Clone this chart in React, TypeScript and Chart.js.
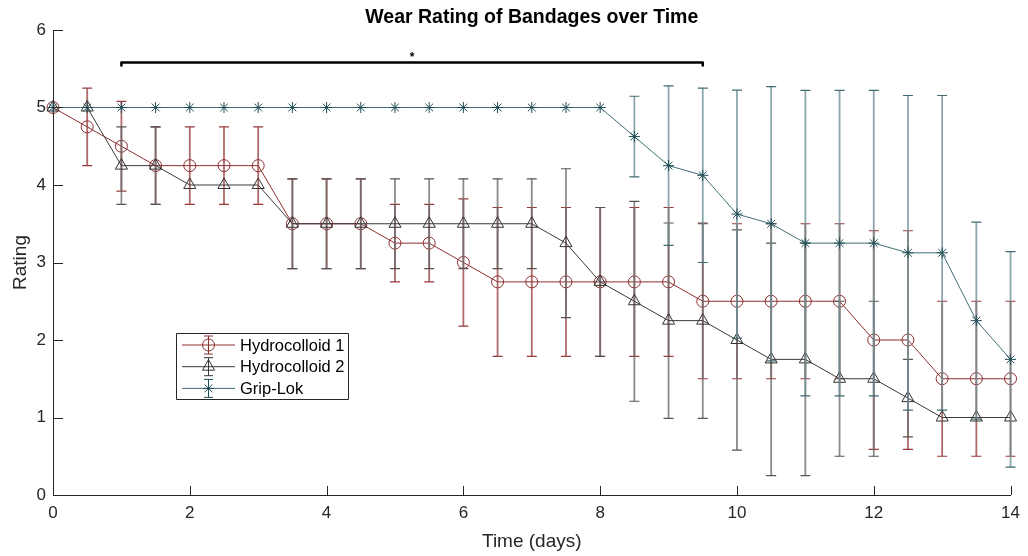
import React, { useEffect, useRef } from "react";
import { Chart, registerables } from "chart.js";
import { drawPoint } from "chart.js/helpers";

Chart.register(...registerables);

const timeDays = [0, 0.5, 1, 1.5, 2, 2.5, 3, 3.5, 4, 4.5, 5, 5.5, 6, 6.5, 7, 7.5, 8, 8.5, 9, 9.5, 10, 10.5, 11, 11.5, 12, 12.5, 13, 13.5, 14];

const hydro1 = [5, 4.75, 4.5, 4.25, 4.25, 4.25, 4.25, 3.5, 3.5, 3.5, 3.25, 3.25, 3.0, 2.75, 2.75, 2.75, 2.75, 2.75, 2.75, 2.5, 2.5, 2.5, 2.5, 2.5, 2.0, 2.0, 1.5, 1.5, 1.5];
const hydro1Err = [0, 0.5, 0.58, 0.5, 0.5, 0.5, 0.5, 0.58, 0.58, 0.58, 0.5, 0.5, 0.82, 0.96, 0.96, 0.96, 0.96, 0.96, 0.96, 1, 1, 1, 1, 1, 1.41, 1.41, 1, 1, 1];

const hydro2 = [5, 5, 4.25, 4.25, 4, 4, 4, 3.5, 3.5, 3.5, 3.5, 3.5, 3.5, 3.5, 3.5, 3.25, 2.75, 2.5, 2.25, 2.25, 2.0, 1.75, 1.75, 1.5, 1.5, 1.25, 1, 1, 1];
const hydro2Err = [0, 0, 0.5, 0.5, 0, 0, 0, 0.58, 0.58, 0.58, 0.58, 0.58, 0.58, 0.58, 0.58, 0.96, 0.96, 1.29, 1.26, 1.26, 1.42, 1.5, 1.5, 1, 1, 0.5, 0, 0, 0];

const gripLok = [5, 5, 5, 5, 5, 5, 5, 5, 5, 5, 5, 5, 5, 5, 5, 5, 5, 4.625, 4.25, 4.125, 3.625, 3.5, 3.25, 3.25, 3.25, 3.125, 3.125, 2.25, 1.75];
const gripLokErr = [0, 0, 0, 0, 0, 0, 0, 0, 0, 0, 0, 0, 0, 0, 0, 0, 0, 0.52, 1.03, 1.125, 1.6, 1.77, 1.97, 1.97, 1.97, 2.03, 2.03, 1.27, 1.39];

const seriesLabels = ["Hydrocolloid 1", "Hydrocolloid 2", "Grip-Lok"];
const xTicks = [0, 2, 4, 6, 8, 10, 12, 14];
const yTicks = [0, 1, 2, 3, 4, 5, 6];
const sigStart = 1;
const sigEnd = 9.5;
const sigLevel = 5.58;
const sigDrop = 5.53;

const FONT = "'Liberation Sans', Arial, Helvetica, sans-serif";
const AXIS = "#262626";

const styles = [
  { line: "#8e2f2f", marker: "#8e2f2f", err: "rgba(160,80,80,0.85)", cap: "#9a3a3a", pointStyle: "circle", radius: 6 },
  { line: "#3a3a3a", marker: "#333333", err: "rgba(110,110,110,0.8)", cap: "#555555", pointStyle: "triangle", radius: 7 },
  { line: "#3f6f75", marker: "#1f4d55", err: "rgba(110,145,150,0.8)", cap: "#3f6a70", pointStyle: "star", radius: 5.5 },
];

const errSets = [hydro1Err, hydro2Err, gripLokErr];
const valSets = [hydro1, hydro2, gripLok];

const overlay = {
  id: "overlay",
  beforeDatasetDraw(chart: any, args: any) {
    const i = args.index;
    const ctx = chart.ctx;
    const xs = chart.scales.x;
    const ys = chart.scales.y;
    const vals = valSets[i];
    const errs = errSets[i];
    ctx.save();
    for (let k = 0; k < timeDays.length; k++) {
      const e = errs[k];
      if (!e) continue;
      const x = xs.getPixelForValue(timeDays[k]);
      const yt = ys.getPixelForValue(vals[k] + e);
      const yb = ys.getPixelForValue(vals[k] - e);
      ctx.strokeStyle = styles[i].err;
      ctx.lineWidth = 1.8;
      ctx.beginPath();
      ctx.moveTo(x, yt);
      ctx.lineTo(x, yb);
      ctx.stroke();
      ctx.strokeStyle = styles[i].cap;
      ctx.lineWidth = 1.2;
      ctx.beginPath();
      ctx.moveTo(x - 5, yt);
      ctx.lineTo(x + 5, yt);
      ctx.moveTo(x - 5, yb);
      ctx.lineTo(x + 5, yb);
      ctx.stroke();
    }
    ctx.restore();
  },
  afterDraw(chart: any) {
    const ctx = chart.ctx;
    const xs = chart.scales.x;
    const ys = chart.scales.y;
    const ca = chart.chartArea;
    ctx.save();
    // inward ticks
    ctx.strokeStyle = AXIS;
    ctx.lineWidth = 1;
    ctx.beginPath();
    for (const t of xTicks) {
      const x = Math.round(xs.getPixelForValue(t)) + 0.5;
      ctx.moveTo(x, ca.bottom);
      ctx.lineTo(x, ca.bottom - 9);
    }
    for (const v of yTicks) {
      const y = Math.round(ys.getPixelForValue(v)) + 0.5;
      ctx.moveTo(ca.left, y);
      ctx.lineTo(ca.left + 10, y);
    }
    ctx.stroke();

    // significance bracket
    const x1 = xs.getPixelForValue(sigStart);
    const x2 = xs.getPixelForValue(sigEnd);
    const yb = ys.getPixelForValue(sigLevel);
    const yd = ys.getPixelForValue(sigDrop);
    ctx.strokeStyle = "#000";
    ctx.lineWidth = 2.5;
    ctx.lineJoin = "round";
    ctx.beginPath();
    ctx.moveTo(x1, yd);
    ctx.lineTo(x1, yb);
    ctx.lineTo(x2, yb);
    ctx.lineTo(x2, yd);
    ctx.stroke();
    ctx.fillStyle = "#000";
    ctx.font = `bold 12px ${FONT}`;
    ctx.textAlign = "center";
    ctx.textBaseline = "alphabetic";
    ctx.fillText("*", (x1 + x2) / 2, yb - 2);

    // title
    const cx = (ca.left + ca.right) / 2;
    ctx.font = `bold 19.5px ${FONT}`;
    ctx.fillStyle = "#000";
    ctx.fillText("Wear Rating of Bandages over Time", cx, 23);

    // axis titles
    ctx.fillStyle = AXIS;
    ctx.font = `19px ${FONT}`;
    ctx.fillText("Time (days)", cx, 547);
    ctx.save();
    ctx.translate(26, (ca.top + ca.bottom) / 2);
    ctx.rotate(-Math.PI / 2);
    ctx.fillText("Rating", 0, 0);
    ctx.restore();

    // legend
    const bx = 176.5, by = 333.5, bw = 172, bh = 66;
    ctx.fillStyle = "#fff";
    ctx.fillRect(bx, by, bw, bh);
    ctx.strokeStyle = AXIS;
    ctx.lineWidth = 1;
    ctx.strokeRect(bx, by, bw, bh);
    for (let i = 0; i < 3; i++) {
      const y = 345 + i * 21.7;
      const st = styles[i];
      ctx.strokeStyle = st.line;
      ctx.lineWidth = 1;
      ctx.beginPath();
      ctx.moveTo(182, y);
      ctx.lineTo(235, y);
      ctx.stroke();
      ctx.strokeStyle = st.marker;
      ctx.beginPath();
      ctx.moveTo(208.5, y - 9);
      ctx.lineTo(208.5, y + 9);
      ctx.moveTo(204, y - 9);
      ctx.lineTo(213, y - 9);
      ctx.moveTo(204, y + 9);
      ctx.lineTo(213, y + 9);
      ctx.stroke();
      ctx.fillStyle = "rgba(0,0,0,0)";
      ctx.strokeStyle = st.marker;
      drawPoint(ctx, { pointStyle: st.pointStyle, radius: st.radius, rotation: 0, borderWidth: 1 } as any, 208.5, y);
      ctx.fillStyle = "#000";
      ctx.font = `16.5px ${FONT}`;
      ctx.textAlign = "left";
      ctx.textBaseline = "middle";
      ctx.fillText(seriesLabels[i], 240, y + 1);
    }
    ctx.restore();
  },
};

export default function App() {
  const ref = useRef<HTMLCanvasElement | null>(null);
  useEffect(() => {
    if (!ref.current) return;
    const datasets = valSets.map((vals, i) => ({
      label: seriesLabels[i],
      data: timeDays.map((t, k) => ({ x: t, y: vals[k] })),
      borderColor: styles[i].line,
      borderWidth: 1,
      backgroundColor: "rgba(0,0,0,0)",
      pointStyle: styles[i].pointStyle,
      pointRadius: styles[i].radius,
      pointBorderColor: styles[i].marker,
      pointBackgroundColor: "rgba(0,0,0,0)",
      pointBorderWidth: 1,
      tension: 0,
      clip: false,
      order: 2 - i,
    }));
    const chart = new Chart(ref.current, {
      type: "line",
      data: { datasets },
      plugins: [overlay],
      options: {
        animation: false,
        responsive: true,
        maintainAspectRatio: false,
        devicePixelRatio: 1,
        layout: { padding: { left: 0, top: 30, right: 13, bottom: 0 } },
        plugins: { legend: { display: false }, title: { display: false }, tooltip: { enabled: false } },
        scales: {
          x: {
            type: "linear",
            min: 0,
            max: 14,
            ticks: { stepSize: 2, color: AXIS, font: { size: 17, family: FONT }, padding: 8, maxRotation: 0 },
            grid: { display: true, drawOnChartArea: false, drawTicks: false },
            border: { display: true, color: AXIS, width: 1 },
            afterFit: (s: any) => { s.height = 61; },
          },
          y: {
            type: "linear",
            min: 0,
            max: 6,
            ticks: { stepSize: 1, color: AXIS, font: { size: 17, family: FONT }, padding: 7 },
            grid: { display: true, drawOnChartArea: false, drawTicks: false },
            border: { display: true, color: AXIS, width: 1 },
            afterFit: (s: any) => { s.width = 53; },
          },
        },
      } as any,
    });
    return () => chart.destroy();
  }, []);
  return (
    <div style={{ position: "fixed", left: 0, top: 0, width: 1028, height: 556, background: "#fff" }}>
      <canvas ref={ref} />
    </div>
  );
}
